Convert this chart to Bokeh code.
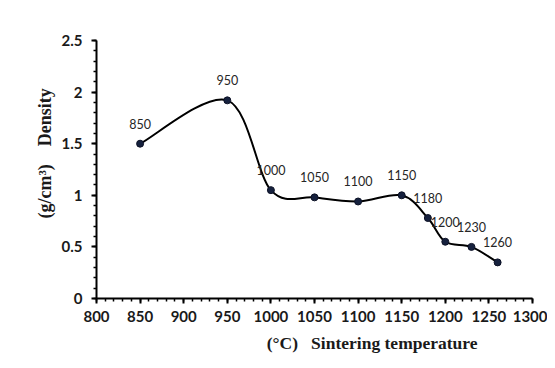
import numpy as np
from bokeh.plotting import figure
from bokeh.models import (SingleIntervalTicker, CustomJSTickFormatter, Title,
                          Range1d)
from bokeh.embed import file_html
from bokeh.resources import INLINE
from bokeh.core.properties import value

# ---- data ----
temps = [850, 950, 1000, 1050, 1100, 1150, 1180, 1200, 1230, 1260]
density = [1.50, 1.92, 1.05, 0.98, 0.94, 1.00, 0.78, 0.55, 0.50, 0.35]
point_labels = [str(t) for t in temps]
x_title = "(°C)\u00a0\u00a0\u00a0Sintering temperature"
y_title = "(g/cm³)" + "\u00a0" * 4 + "Density"

p = figure(width=547, height=360, output_backend="svg", toolbar_location=None,
           x_range=Range1d(800, 1300), y_range=Range1d(0, 2.5),
           min_border_left=96, min_border_right=15, min_border_top=40,
           min_border_bottom=62)
p.outline_line_color = None
p.grid.visible = False
p.background_fill_color = "white"
p.border_fill_color = "white"

# smooth (Catmull-Rom style) bezier segments through the data
x = np.array(temps, dtype=float)
y = np.array(density, dtype=float)
xprev = np.concatenate([[x[0]], x[:-2]])
yprev = np.concatenate([[y[0]], y[:-2]])
xnext = np.concatenate([x[2:], [x[-1]]])
ynext = np.concatenate([y[2:], [y[-1]]])
cx0 = x[:-1] + (x[1:] - xprev) / 6.0
cy0 = y[:-1] + (y[1:] - yprev) / 6.0
cx1 = x[1:] - (xnext - x[:-1]) / 6.0
cy1 = y[1:] - (ynext - y[:-1]) / 6.0
p.bezier(x0=x[:-1], y0=y[:-1], x1=x[1:], y1=y[1:], cx0=cx0, cy0=cy0,
         cx1=cx1, cy1=cy1, line_color="black", line_width=2)

p.scatter(temps, density, size=7, fill_color="#16213e", line_color="#0d1226")

p.text(x=temps, y=density, text=point_labels, y_offset=-20,
       text_align="center", text_baseline="middle",
       text_font=value("Lato"), text_font_size="12.5px", text_color="#262626")

for ax in (p.xaxis[0], p.yaxis[0]):
    ax.axis_line_width = 2
    ax.axis_line_color = "black"
    ax.major_tick_line_width = 2
    ax.major_tick_line_color = "black"
    ax.minor_tick_line_width = 1.5
    ax.minor_tick_line_color = "black"
    ax.major_tick_out = 5
    ax.major_tick_in = 0
    ax.minor_tick_out = 3
    ax.minor_tick_in = 0
    ax.major_label_text_font = "Lato"
    ax.major_label_text_font_style = "bold"
    ax.major_label_text_font_size = "15px"
    ax.major_label_text_color = "#1a1a1a"

p.xaxis.ticker = SingleIntervalTicker(interval=50, num_minor_ticks=5)
p.yaxis.ticker = SingleIntervalTicker(interval=0.5, num_minor_ticks=5)
p.yaxis.formatter = CustomJSTickFormatter(code="return String(Math.round(tick*10)/10);")
p.xaxis.major_label_standoff = 7
p.yaxis.major_label_standoff = 9

p.add_layout(Title(text=x_title, align="right", offset=55, standoff=13,
                   text_font="Liberation Serif", text_font_style="bold",
                   text_font_size="17.5px", text_color="#1a1a1a"), "below")
p.add_layout(Title(text=y_title, align="left", offset=80, standoff=8,
                   text_font="Liberation Serif", text_font_style="bold",
                   text_font_size="18px", text_color="#1a1a1a"), "left")

open("out.html", "w").write(file_html(p, INLINE))
